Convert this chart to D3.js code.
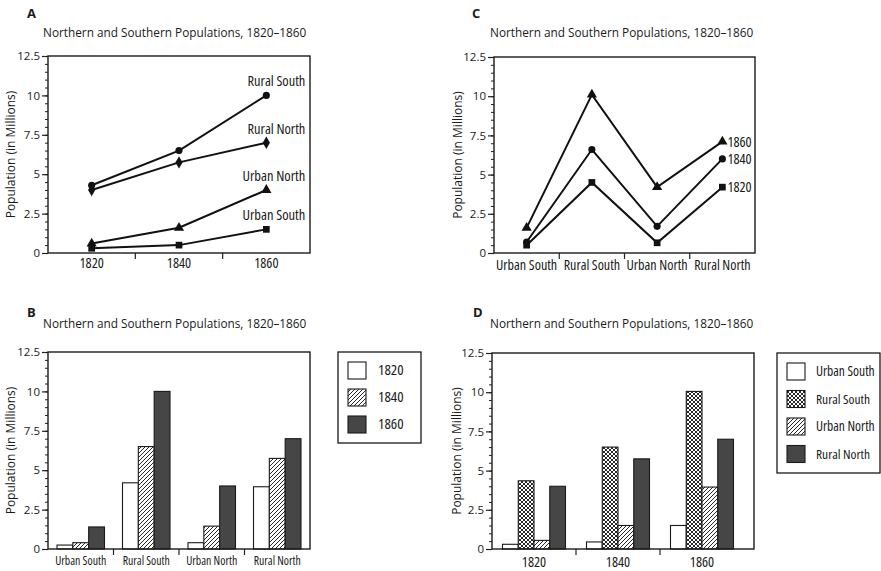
<!DOCTYPE html>
<html>
<head>
<meta charset="utf-8">
<script src="https://cdn.jsdelivr.net/npm/d3@7"></script>
<style>
  body { margin: 0; background: #fff; }
  text { fill: #1a1a1a; }
</style>
</head>
<body>
<svg id="chart" width="881" height="571"></svg>
<script>
(function () {

var title = "Northern and Southern Populations, 1820\u20131860";
var yLabel = "Population (in Millions)";
var years = ["1820", "1840", "1860"];
var regions = ["Urban South", "Rural South", "Urban North", "Rural North"];
var yTicks = [0, 2.5, 5, 7.5, 10, 12.5];

// panel A, one line per region across the years
var aRuralSouth = [4.3, 6.5, 10];
var aRuralNorth = [4.0, 5.75, 7.0];
var aUrbanNorth = [0.6, 1.6, 4.0];
var aUrbanSouth = [0.3, 0.5, 1.5];

// panel C, one line per year across the regions
var c1860 = [1.6, 10.1, 4.2, 7.1];
var c1840 = [0.7, 6.6, 1.7, 6.0];
var c1820 = [0.5, 4.5, 0.65, 4.2];

// panel B, bars by region, one per year
var b1820 = [0.25, 4.2, 0.4, 3.95];
var b1840 = [0.4, 6.5, 1.45, 5.75];
var b1860 = [1.4, 10.0, 4.0, 7.0];

// panel D, bars by year, one per region
var dUrbanSouth = [0.3, 0.45, 1.5];
var dRuralSouth = [4.35, 6.5, 10.05];
var dUrbanNorth = [0.55, 1.5, 3.95];
var dRuralNorth = [4.0, 5.75, 7.0];

var svg = d3.select("#chart");
var sans = "'Open Sans', 'Noto Sans', sans-serif";
var dark = "#464646";

makePatterns();

var fills = { plain: "#fff", hatch: "url(#hatch)", cross: "url(#cross)", dark: dark };

// look for a real condensed face among the installed fonts
var narrow = findNarrow();

function findNarrow() {
  var t = svg.append("text").attr("font-size", "14px").attr("font-family", sans)
    .text("Urban South Rural North 1820");
  var base = t.node().getComputedTextLength();
  var cands = [
    ["'Open Sans'", "condensed"], ["'Noto Sans'", "condensed"],
    ["'Noto Sans'", "extra-condensed"], ["'Roboto'", "condensed"],
    ["'DejaVu Sans Condensed'", "normal"], ["'Liberation Sans Narrow'", "normal"]
  ];
  var found = null;
  cands.forEach(function (c) {
    if (found) return;
    t.attr("font-family", c[0] + ", 'Open Sans'").style("font-stretch", c[1]);
    var w = t.node().getComputedTextLength();
    if (w < base * 0.9) found = { family: c[0] + ", " + sans, stretch: c[1] };
  });
  t.remove();
  return found;
}

// the original uses a condensed face: use one if present, else squeeze the glyphs
function condense(sel, k) {
  k = k || 0.76;
  sel.attr("font-family", sans).each(function () {
    var el = d3.select(this);
    var w0 = this.getComputedTextLength();
    var target = w0 * k;
    if (narrow) {
      el.attr("font-family", narrow.family).style("font-stretch", narrow.stretch);
      var w1 = this.getComputedTextLength();
      var fs = parseFloat(el.attr("font-size"));
      var f = Math.max(0.85, Math.min(1.15, target / w1));
      el.attr("font-size", (fs * f) + "px");
      var w2 = this.getComputedTextLength();
      if (Math.abs(w2 - target) > 1.5) el.attr("textLength", target).attr("lengthAdjust", "spacingAndGlyphs");
    } else {
      el.attr("textLength", target).attr("lengthAdjust", "spacingAndGlyphs");
    }
  });
}

function panel(p) {
  var g = svg.append("g");
  g.append("text").attr("x", p.letterX).attr("y", p.letterY)
    .attr("font-family", sans).attr("font-weight", "bold")
    .attr("font-size", "13px").text(p.letter);
  g.append("text").attr("x", p.titleX).attr("y", p.titleY)
    .attr("font-family", sans).attr("font-size", "11.8px").text(title);

  var y = d3.scaleLinear().domain([0, 12.5]).range([p.bottom, p.top]);
  var x = d3.scaleBand().domain(p.cats).range([p.left, p.left + p.bandsWidth]);

  // minor ticks
  g.append("g").attr("transform", "translate(" + p.left + ",0)")
    .call(d3.axisLeft(y).tickValues(y.ticks(25)).tickSize(3).tickSizeOuter(0).tickFormat(""))
    .call(function (a) { a.select(".domain").remove(); a.selectAll("line").attr("stroke", "#222"); });
  // major ticks
  g.append("g").attr("transform", "translate(" + p.left + ",0)")
    .call(d3.axisLeft(y).tickValues(yTicks).tickSize(6).tickSizeOuter(0).tickPadding(2)
      .tickFormat(function (d) { return String(d); }))
    .call(function (a) {
      a.select(".domain").remove();
      a.selectAll("line").attr("stroke", "#222").attr("stroke-width", 1.2);
      a.selectAll("text").attr("font-family", sans).attr("font-size", "11.5px").attr("fill", "#1a1a1a");
    });

  g.append("text")
    .attr("transform", "translate(" + p.yLabelX + "," + ((p.top + p.bottom) / 2) + ") rotate(-90)")
    .attr("text-anchor", "middle").attr("font-family", sans).attr("font-size", "12px").text(yLabel);

  // category ticks between bands
  g.selectAll(".sep").data(p.cats.slice(1)).enter().append("line")
    .attr("x1", function (d) { return x(d); }).attr("x2", function (d) { return x(d); })
    .attr("y1", p.bottom).attr("y2", p.bottom + 6)
    .attr("stroke", "#222").attr("stroke-width", 1.2);
  g.selectAll(".cat").data(p.cats).enter().append("text")
    .attr("x", function (d) { return x(d) + x.bandwidth() / 2; })
    .attr("y", p.catY).attr("text-anchor", "middle")
    .attr("font-size", p.catSize).text(function (d) { return d; })
    .call(condense, p.catK);

  var plot = g.append("g");

  g.append("rect").attr("x", p.left).attr("y", p.top)
    .attr("width", p.right - p.left).attr("height", p.bottom - p.top)
    .attr("fill", "none").attr("stroke", "#1a1a1a").attr("stroke-width", 1.4);

  return { g: g, plot: plot, x: x, y: y };
}

function lines(P, series, labelFn) {
  var cx = function (i) { return P.x(P.x.domain()[i]) + P.x.bandwidth() / 2; };
  var line = d3.line().x(function (d, i) { return cx(i); }).y(function (d) { return P.y(d); });
  series.forEach(function (s) {
    P.plot.append("path").attr("d", line(s.values))
      .attr("fill", "none").attr("stroke", "#111").attr("stroke-width", 2);
    P.plot.selectAll(null).data(s.values).enter().append("path")
      .attr("transform", function (d, i) { return "translate(" + cx(i) + "," + P.y(d) + ")"; })
      .attr("d", d3.symbol().type(s.symbol).size(s.size))
      .attr("fill", "#111");
    labelFn(s, cx(s.values.length - 1), P.y(s.values[s.values.length - 1]));
  });
}

function bars(P, series, padding) {
  var inner = d3.scaleBand().domain(series.map(function (s) { return s.name; }))
    .range([padding, P.x.bandwidth() - padding]);
  series.forEach(function (s) {
    P.plot.selectAll(null).data(s.values).enter().append("rect")
      .attr("x", function (d, i) { return P.x(P.x.domain()[i]) + inner(s.name); })
      .attr("width", inner.bandwidth())
      .attr("y", function (d) { return P.y(d); })
      .attr("height", function (d) { return P.y(0) - P.y(d); })
      .attr("fill", s.fill).attr("stroke", "#1a1a1a").attr("stroke-width", 1.1);
  });
}

function legend(g, box, series) {
  g.append("rect").attr("x", box.x).attr("y", box.y).attr("width", box.w).attr("height", box.h)
    .attr("fill", "#fff").attr("stroke", "#1a1a1a").attr("stroke-width", 1.3);
  series.forEach(function (s, i) {
    var yy = box.y + 10 + i * box.step;
    g.append("rect").attr("x", box.x + 10).attr("y", yy).attr("width", 18).attr("height", 17)
      .attr("fill", s.fill).attr("stroke", "#1a1a1a").attr("stroke-width", 1.1);
    g.append("text").attr("x", box.x + box.textDx).attr("y", yy + 13)
      .attr("font-size", "14px").text(s.name).call(condense, box.k);
  });
}

// ---- A
var A = panel({ letter: "A", letterX: 27, letterY: 18, titleX: 43, titleY: 37,
  left: 48, right: 310, top: 56, bottom: 253, bandsWidth: 262, cats: years,
  catY: 268, catSize: "14px", yLabelX: 15 });
lines(A, [
  { name: "Rural South", values: aRuralSouth, symbol: d3.symbolCircle, size: 40 },
  { name: "Rural North", values: aRuralNorth, symbol: d3.symbolDiamond, size: 45 },
  { name: "Urban North", values: aUrbanNorth, symbol: d3.symbolTriangle, size: 45 },
  { name: "Urban South", values: aUrbanSouth, symbol: d3.symbolSquare, size: 45 }
], function (s, px, py) {
  A.plot.append("text").attr("x", px + 39).attr("y", py - 9).attr("text-anchor", "end")
    .attr("font-size", "14px").text(s.name).call(condense);
});

// ---- C
var C = panel({ letter: "C", letterX: 472, letterY: 18, titleX: 490, titleY: 37,
  left: 494, right: 755, top: 57, bottom: 253, bandsWidth: 261, cats: regions,
  catY: 270, catSize: "14px", catK: 0.74, yLabelX: 462 });
lines(C, [
  { name: "1860", values: c1860, symbol: d3.symbolTriangle, size: 45 },
  { name: "1840", values: c1840, symbol: d3.symbolCircle, size: 40 },
  { name: "1820", values: c1820, symbol: d3.symbolSquare, size: 45 }
], function (s, px, py) {
  C.plot.append("text").attr("x", px + 5).attr("y", py + 5)
    .attr("font-size", "14px").text(s.name).call(condense);
});

// ---- B
var B = panel({ letter: "B", letterX: 27, letterY: 317, titleX: 43, titleY: 328,
  left: 48, right: 310, top: 352, bottom: 549, bandsWidth: 262, cats: regions,
  catY: 565, catSize: "12px", catK: 0.72, yLabelX: 15 });
var bSeries = [
  { name: "1820", values: b1820, fill: fills.plain },
  { name: "1840", values: b1840, fill: fills.hatch },
  { name: "1860", values: b1860, fill: fills.dark }
];
bars(B, bSeries, 9);
legend(B.g, { x: 338, y: 352, w: 83, h: 91, step: 27, textDx: 40, k: 0.8 }, bSeries);

// ---- D
var D = panel({ letter: "D", letterX: 473, letterY: 317, titleX: 490, titleY: 328,
  left: 492, right: 754, top: 353, bottom: 549, bandsWidth: 252, cats: years,
  catY: 567, catSize: "14px", yLabelX: 461 });
var dSeries = [
  { name: "Urban South", values: dUrbanSouth, fill: fills.plain },
  { name: "Rural South", values: dRuralSouth, fill: fills.cross },
  { name: "Urban North", values: dUrbanNorth, fill: fills.hatch },
  { name: "Rural North", values: dRuralNorth, fill: fills.dark }
];
bars(D, dSeries, 10.5);
legend(D.g, { x: 777, y: 353, w: 103, h: 120, step: 27.5, textDx: 39, k: 0.71 }, dSeries);

function makePatterns() {
  var defs = svg.append("defs");
  var h = defs.append("pattern").attr("id", "hatch").attr("patternUnits", "userSpaceOnUse")
    .attr("width", 4).attr("height", 4);
  h.append("rect").attr("width", 4).attr("height", 4).attr("fill", "#fff");
  h.append("path").attr("d", "M-1,1 l2,-2 M0,4 l4,-4 M3,5 l2,-2")
    .attr("stroke", "#111").attr("stroke-width", 0.9);
  var c = defs.append("pattern").attr("id", "cross").attr("patternUnits", "userSpaceOnUse")
    .attr("width", 4).attr("height", 4);
  c.append("rect").attr("width", 4).attr("height", 4).attr("fill", "#fff");
  c.append("path").attr("d", "M-1,1 l2,-2 M0,4 l4,-4 M3,5 l2,-2 M-1,3 l2,2 M0,0 l4,4 M3,-1 l2,2")
    .attr("stroke", "#111").attr("stroke-width", 0.9);
}

})();
</script>
</body>
</html>
